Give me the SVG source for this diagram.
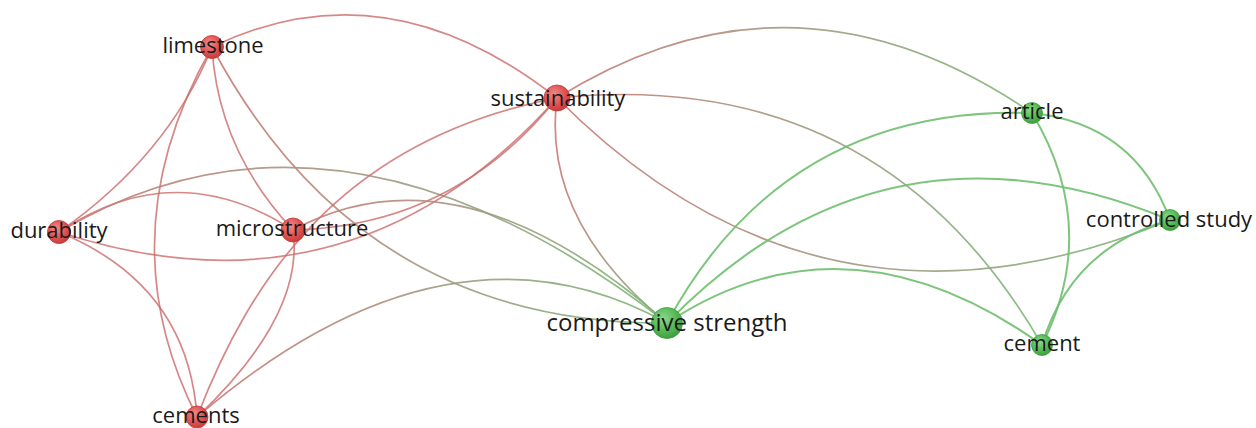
<svg xmlns="http://www.w3.org/2000/svg" width="1256" height="428" viewBox="0 0 1256 428">
<defs>
<radialGradient id="gr" cx="0.4" cy="0.35" r="0.7">
<stop offset="0" stop-color="#f08a8a"/>
<stop offset="0.6" stop-color="#de5050"/>
<stop offset="1" stop-color="#c43a3a"/>
</radialGradient>
<radialGradient id="gg" cx="0.4" cy="0.35" r="0.7">
<stop offset="0" stop-color="#8ad88a"/>
<stop offset="0.6" stop-color="#52b852"/>
<stop offset="1" stop-color="#3c9a3c"/>
</radialGradient>
<linearGradient id="mix" x1="0" y1="0" x2="1" y2="0">
<stop offset="0" stop-color="#c97a74"/>
<stop offset="0.5" stop-color="#a39882"/>
<stop offset="1" stop-color="#7cb877"/>
</linearGradient>
</defs>
<style>
.e{fill:none;stroke-width:1.7;stroke-linecap:round}
.r{stroke:#cc6a6a;stroke-opacity:0.8}
.g{stroke:#6fbf6f;stroke-opacity:0.9;stroke-width:2}
.m{stroke:url(#mix);stroke-opacity:0.9}
.nr{fill:url(#gr);stroke:#c23c3c;stroke-width:0.8}
.ng{fill:url(#gg);stroke:#3c9a3c;stroke-width:0.8}
text{font-family:"Open Sans","Noto Sans","Liberation Sans",sans-serif;font-size:22px;fill:#1a1a1a;text-anchor:middle}
</style>
<rect width="1256" height="428" fill="#ffffff"/>
<g id="connectors">
<path class="e r" d="M212,47 Q385,-37 557,98"/>
<path class="e r" d="M212,47 Q168,156 59,232"/>
<path class="e r" d="M212,47 Q105,235 197,417"/>
<path class="e r" d="M212,47 Q218,150 293,230"/>
<path class="e m" d="M212,47 Q360,325 667,323"/>
<path class="e r" d="M59,232 Q175,154 293,230"/>
<path class="e m" d="M59,232 Q337,67 667,323"/>
<path class="e r" d="M59,232 Q352,328 557,98"/>
<path class="e r" d="M59,232 Q188,285 197,417"/>
<path class="e r" d="M293,230 Q455,226 557,98"/>
<path class="e r" d="M197,417 C250,280 340,140 557,98"/>
<path class="e r" d="M197,417 Q305,315 293,230"/>
<path class="e m" d="M293,230 Q460,140 667,323"/>
<path class="e m" d="M197,417 Q448,202 667,323"/>
<path class="e m" d="M557,98 Q541,220 667,323"/>
<path class="e m" d="M557,98 Q794,-50 1032,113"/>
<path class="e m" d="M557,98 Q880,65 1042,345"/>
<path class="e m" d="M557,98 Q822,365 1170,220"/>
<path class="e g" d="M667,323 Q785,105 1032,113"/>
<path class="e g" d="M667,323 Q883,101 1170,220"/>
<path class="e g" d="M667,323 Q846,205 1042,345"/>
<path class="e g" d="M1032,113 Q1135,124 1170,220"/>
<path class="e g" d="M1032,113 Q1101,228 1042,345"/>
<path class="e g" d="M1170,220 Q1071,248 1042,345"/>
</g>
<g id="limestone"><circle class="nr" cx="212" cy="47" r="11.5"/><text x="213" y="53">limestone</text></g>
<g id="sustainability"><circle class="nr" cx="557" cy="98" r="13"/><text x="558" y="106">sustainability</text></g>
<g id="durability"><circle class="nr" cx="59" cy="232" r="11.5"/><text x="59" y="238">durability</text></g>
<g id="microstructure"><circle class="nr" cx="293" cy="230" r="12"/><text x="292" y="236">microstructure</text></g>
<g id="cements"><circle class="nr" cx="197" cy="417" r="11"/><text x="196" y="423">cements</text></g>
<g id="compressive-strength"><circle class="ng" cx="667" cy="323" r="15.5"/><text x="667" y="331" style="font-size:24px">compressive strength</text></g>
<g id="article"><circle class="ng" cx="1032" cy="113" r="10.5"/><text x="1032" y="119">article</text></g>
<g id="controlled-study"><circle class="ng" cx="1170" cy="220" r="10.5"/><text x="1169" y="227">controlled study</text></g>
<g id="cement"><circle class="ng" cx="1042" cy="345" r="10.5"/><text x="1042" y="351">cement</text></g>
</svg>
